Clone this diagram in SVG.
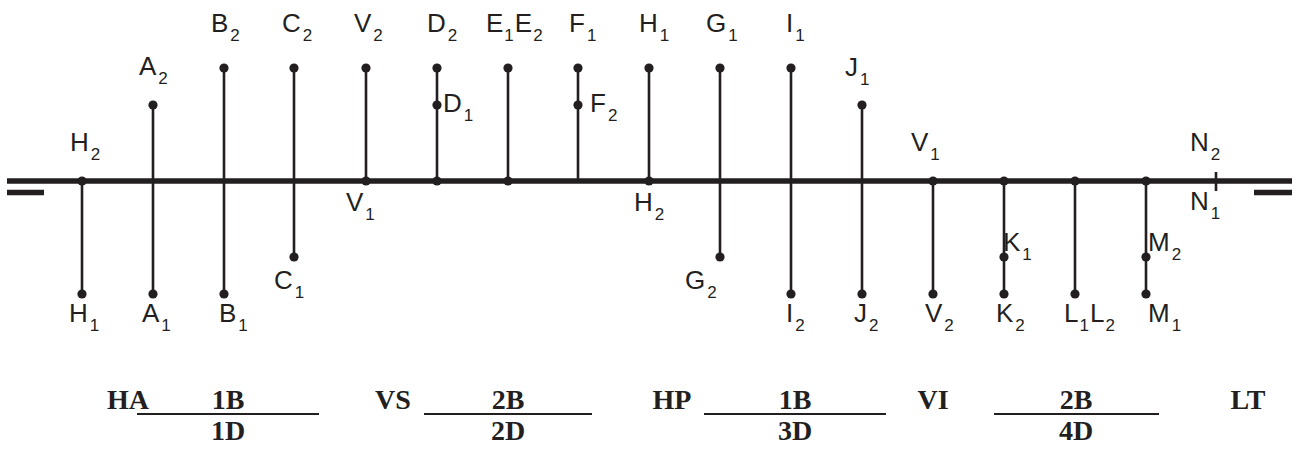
<svg xmlns="http://www.w3.org/2000/svg" width="1300" height="455" viewBox="0 0 1300 455">
  <style>
    .axis { stroke: #231f20; stroke-width: 5.5; fill: none; }
    .proj { stroke: #231f20; stroke-width: 2.6; fill: none; }
    .rule { stroke: #231f20; stroke-width: 2.2; fill: none; }
    .pt { fill: #231f20; }
    .lbl { font-family: "Liberation Sans", Arial, sans-serif; font-size: 26px; fill: #231f20; }
    .sub { font-size: 17px; }
    .cap { font-family: "Liberation Serif", "Times New Roman", serif; font-size: 28px; font-weight: bold; fill: #231f20; text-anchor: middle; }
  </style>
  <defs>
    <circle id="dot" r="4.6" class="pt"/>
  </defs>
  <rect width="1300" height="455" fill="#ffffff"/>

  <!-- ground line and end marks -->
  <g id="connectors">
    <line class="axis" x1="7" y1="181" x2="1292" y2="181"/>
    <line class="axis" x1="7" y1="192.5" x2="44" y2="192.5"/>
    <line class="axis" x1="1254" y1="192.5" x2="1292" y2="192.5"/>
  </g>

  <!-- H -->
  <g id="node-h">
    <line class="proj" x1="82" y1="181" x2="82" y2="294"/>
    <use href="#dot" x="82" y="181"/>
    <use href="#dot" x="82" y="294"/>
    <text class="lbl" x="70" y="151">H<tspan class="sub" dx="2" dy="9">2</tspan></text>
    <text class="lbl" x="69" y="322">H<tspan class="sub" dx="2" dy="9">1</tspan></text>
  </g>

  <!-- A -->
  <g id="node-a">
    <line class="proj" x1="153" y1="105" x2="153" y2="294"/>
    <use href="#dot" x="153" y="105"/>
    <use href="#dot" x="153" y="294"/>
    <text class="lbl" x="139" y="75">A<tspan class="sub" dx="2" dy="9">2</tspan></text>
    <text class="lbl" x="142" y="322">A<tspan class="sub" dx="2" dy="9">1</tspan></text>
  </g>

  <!-- B -->
  <g id="node-b">
    <line class="proj" x1="224" y1="68" x2="224" y2="294"/>
    <use href="#dot" x="224" y="68"/>
    <use href="#dot" x="224" y="294"/>
    <text class="lbl" x="211" y="32">B<tspan class="sub" dx="2" dy="9">2</tspan></text>
    <text class="lbl" x="219" y="322">B<tspan class="sub" dx="2" dy="9">1</tspan></text>
  </g>

  <!-- C -->
  <g id="node-c">
    <line class="proj" x1="294" y1="68" x2="294" y2="257"/>
    <use href="#dot" x="294" y="68"/>
    <use href="#dot" x="294" y="257"/>
    <text class="lbl" x="282" y="32">C<tspan class="sub" dx="2" dy="9">2</tspan></text>
    <text class="lbl" x="274" y="289">C<tspan class="sub" dx="2" dy="9">1</tspan></text>
  </g>

  <!-- V (first) -->
  <g id="node-v-left">
    <line class="proj" x1="366" y1="68" x2="366" y2="181"/>
    <use href="#dot" x="366" y="68"/>
    <use href="#dot" x="366" y="181"/>
    <text class="lbl" x="354" y="32">V<tspan class="sub" dx="2" dy="9">2</tspan></text>
    <text class="lbl" x="346" y="211">V<tspan class="sub" dx="2" dy="9">1</tspan></text>
  </g>

  <!-- D -->
  <g id="node-d">
    <line class="proj" x1="437" y1="68" x2="437" y2="181"/>
    <use href="#dot" x="437" y="68"/>
    <use href="#dot" x="437" y="105"/>
    <use href="#dot" x="437" y="181"/>
    <text class="lbl" x="427" y="32">D<tspan class="sub" dx="2" dy="9">2</tspan></text>
    <text class="lbl" x="443" y="112">D<tspan class="sub" dx="2" dy="9">1</tspan></text>
  </g>

  <!-- E -->
  <g id="node-e">
    <line class="proj" x1="508" y1="68" x2="508" y2="181"/>
    <use href="#dot" x="508" y="68"/>
    <use href="#dot" x="508" y="181"/>
    <text class="lbl" x="486" y="32">E<tspan class="sub" dx="1" dy="9">1</tspan><tspan dx="1" dy="-9">E</tspan><tspan class="sub" dx="1" dy="9">2</tspan></text>
  </g>

  <!-- F -->
  <g id="node-f">
    <line class="proj" x1="578" y1="68" x2="578" y2="181"/>
    <use href="#dot" x="578" y="68"/>
    <use href="#dot" x="578" y="105"/>
    <text class="lbl" x="569" y="32">F<tspan class="sub" dx="2" dy="9">1</tspan></text>
    <text class="lbl" x="590" y="112">F<tspan class="sub" dx="2" dy="9">2</tspan></text>
  </g>

  <!-- H (second) -->
  <g id="node-h-mid">
    <line class="proj" x1="649" y1="68" x2="649" y2="181"/>
    <use href="#dot" x="649" y="68"/>
    <use href="#dot" x="649" y="181"/>
    <text class="lbl" x="639" y="32">H<tspan class="sub" dx="2" dy="9">1</tspan></text>
    <text class="lbl" x="634" y="211">H<tspan class="sub" dx="2" dy="9">2</tspan></text>
  </g>

  <!-- G -->
  <g id="node-g">
    <line class="proj" x1="720" y1="68" x2="720" y2="257"/>
    <use href="#dot" x="720" y="68"/>
    <use href="#dot" x="720" y="257"/>
    <text class="lbl" x="706" y="32">G<tspan class="sub" dx="2" dy="9">1</tspan></text>
    <text class="lbl" x="685" y="289">G<tspan class="sub" dx="2" dy="9">2</tspan></text>
  </g>

  <!-- I -->
  <g id="node-i">
    <line class="proj" x1="791" y1="68" x2="791" y2="294"/>
    <use href="#dot" x="791" y="68"/>
    <use href="#dot" x="791" y="294"/>
    <text class="lbl" x="786" y="32">I<tspan class="sub" dx="2" dy="9">1</tspan></text>
    <text class="lbl" x="786" y="322">I<tspan class="sub" dx="2" dy="9">2</tspan></text>
  </g>

  <!-- J -->
  <g id="node-j">
    <line class="proj" x1="862" y1="105" x2="862" y2="294"/>
    <use href="#dot" x="862" y="105"/>
    <use href="#dot" x="862" y="294"/>
    <text class="lbl" x="845" y="76">J<tspan class="sub" dx="2" dy="9">1</tspan></text>
    <text class="lbl" x="854" y="322">J<tspan class="sub" dx="2" dy="9">2</tspan></text>
  </g>

  <!-- V (second) -->
  <g id="node-v-right">
    <line class="proj" x1="933" y1="181" x2="933" y2="294"/>
    <use href="#dot" x="933" y="181"/>
    <use href="#dot" x="933" y="294"/>
    <text class="lbl" x="911" y="151">V<tspan class="sub" dx="2" dy="9">1</tspan></text>
    <text class="lbl" x="925" y="322">V<tspan class="sub" dx="2" dy="9">2</tspan></text>
  </g>

  <!-- K -->
  <g id="node-k">
    <line class="proj" x1="1004" y1="181" x2="1004" y2="294"/>
    <use href="#dot" x="1004" y="181"/>
    <use href="#dot" x="1004" y="257"/>
    <use href="#dot" x="1004" y="294"/>
    <text class="lbl" x="1003" y="251">K<tspan class="sub" dx="2" dy="9">1</tspan></text>
    <text class="lbl" x="996" y="322">K<tspan class="sub" dx="2" dy="9">2</tspan></text>
  </g>

  <!-- L -->
  <g id="node-l">
    <line class="proj" x1="1075" y1="181" x2="1075" y2="294"/>
    <use href="#dot" x="1075" y="181"/>
    <use href="#dot" x="1075" y="294"/>
    <text class="lbl" x="1064" y="322">L<tspan class="sub" dx="1" dy="9">1</tspan><tspan dx="1" dy="-9">L</tspan><tspan class="sub" dx="1" dy="9">2</tspan></text>
  </g>

  <!-- M -->
  <g id="node-m">
    <line class="proj" x1="1146" y1="181" x2="1146" y2="294"/>
    <use href="#dot" x="1146" y="181"/>
    <use href="#dot" x="1146" y="257"/>
    <use href="#dot" x="1146" y="294"/>
    <text class="lbl" x="1148" y="251">M<tspan class="sub" dx="2" dy="9">2</tspan></text>
    <text class="lbl" x="1148" y="322">M<tspan class="sub" dx="2" dy="9">1</tspan></text>
  </g>

  <!-- N -->
  <g id="node-n">
    <line class="proj" x1="1216" y1="172" x2="1216" y2="191"/>
    <text class="lbl" x="1190" y="151">N<tspan class="sub" dx="2" dy="9">2</tspan></text>
    <text class="lbl" x="1190" y="210">N<tspan class="sub" dx="2" dy="9">1</tspan></text>
  </g>

  <!-- classification captions -->
  <g id="captions">
    <text class="cap" x="128" y="409">HA</text>
    <text class="cap" x="228" y="409">1B</text>
    <line class="rule" x1="137" y1="414" x2="319" y2="414"/>
    <text class="cap" x="228" y="440">1D</text>
    <text class="cap" x="393" y="409">VS</text>
    <text class="cap" x="508" y="409">2B</text>
    <line class="rule" x1="424" y1="414" x2="592" y2="414"/>
    <text class="cap" x="508" y="440">2D</text>
    <text class="cap" x="672" y="409">HP</text>
    <text class="cap" x="795" y="409">1B</text>
    <line class="rule" x1="704" y1="414" x2="886" y2="414"/>
    <text class="cap" x="795" y="440">3D</text>
    <text class="cap" x="933" y="409">VI</text>
    <text class="cap" x="1076" y="409">2B</text>
    <line class="rule" x1="994" y1="414" x2="1159" y2="414"/>
    <text class="cap" x="1076" y="440">4D</text>
    <text class="cap" x="1248" y="409">LT</text>
  </g>
</svg>
